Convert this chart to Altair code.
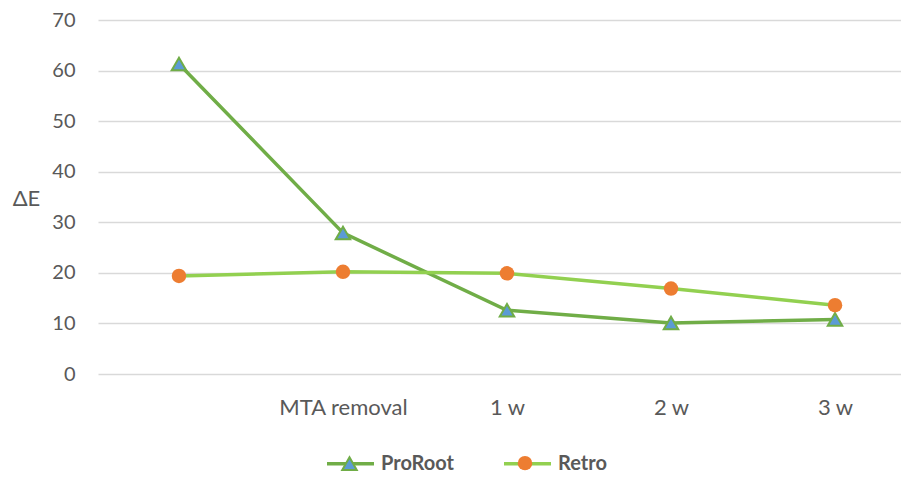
import altair as alt
import pandas as pd

categories = [" ", "MTA removal", "1 w", "2 w", "3 w"]
series_names = ["ProRoot", "Retro"]
proroot = [61.3, 27.9, 12.6, 10.1, 10.8]
retro = [19.4, 20.2, 19.9, 16.9, 13.6]

rows = []
for name, vals in zip(series_names, [proroot, retro]):
    for c, v in zip(categories, vals):
        rows.append({"cat": c, "series": name, "series2": name, "value": v})
df = pd.DataFrame(rows)

FONT = "Lato"
TXT = "#595959"

x_enc = alt.X("cat:N", sort=categories,
              scale=alt.Scale(type="point", padding=0.448, align=0.551),
              axis=alt.Axis(title=None, labelAngle=0, ticks=False, tickSize=0, domain=False,
                            grid=False, labelFont=FONT, labelFontSize=22, labelColor=TXT,
                            labelBaseline="middle", labelPadding=33))
y_enc = alt.Y("value:Q",
              scale=alt.Scale(domain=[0, 70], nice=False),
              axis=alt.Axis(title="ΔE", values=list(range(0, 80, 10)), ticks=False, tickSize=0,
                            domain=False, grid=True, gridColor="#d9d9d9", gridWidth=1.5,
                            labelFont=FONT, labelFontSize=20, labelColor=TXT, labelPadding=23,
                            titleAngle=0, titleX=-72, titleY=178, titleAlign="center",
                            titleBaseline="middle", titleFont=FONT, titleFontSize=22,
                            titleFontWeight="normal", titleColor=TXT))

legA = alt.Legend(title=None, orient="none", legendX=227, legendY=418, direction="horizontal",
                  symbolType="stroke", symbolSize=2209, symbolStrokeWidth=3.5,
                  labelFont=FONT, labelFontSize=20, labelFontWeight="bold", labelColor=TXT,
                  labelOffset=5, columnPadding=43, padding=0)
legB = alt.Legend(title=None, orient="none", legendX=243, legendY=434.5, direction="horizontal",
                  symbolSize=210, symbolStrokeWidth=2, labelExpr="''",
                  labelFont=FONT, labelFontSize=14, labelColor=TXT,
                  labelOffset=0, columnPadding=152.5, padding=0)

lines = alt.Chart(df).mark_line(strokeWidth=3.5).encode(
    x=x_enc, y=y_enc,
    color=alt.Color("series:N", scale=alt.Scale(range=["#70ad47", "#92d050"]), legend=legA),
)
points = alt.Chart(df).mark_point(filled=True, opacity=1, strokeWidth=2, size=210).encode(
    x=x_enc, y=y_enc,
    fill=alt.Fill("series2:N", scale=alt.Scale(range=["#5b9bd5", "#ed7d31"]), legend=legB),
    shape=alt.Shape("series2:N", scale=alt.Scale(range=["triangle-up", "circle"]), legend=legB),
    stroke=alt.Stroke("series2:N", scale=alt.Scale(range=["#70ad47", "transparent"]), legend=legB),
)

chart = alt.layer(lines, points).properties(
    width=803, height=354, autosize="none",
    padding={"left": 90, "top": 12, "right": 0, "bottom": 100},
).configure_view(strokeWidth=0)

chart.save("out.html", embed_options={"renderer": "svg", "actions": False})
